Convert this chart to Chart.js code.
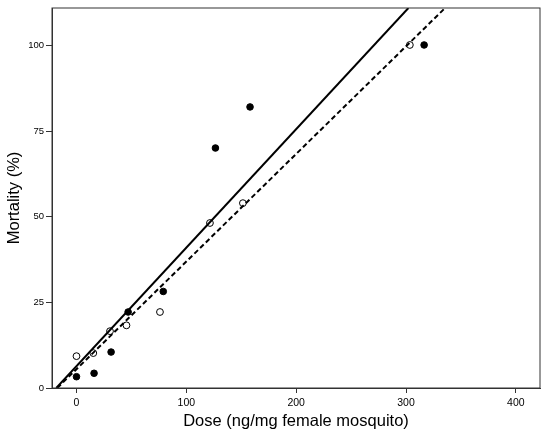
<!DOCTYPE html>
<html>
<head>
<meta charset="utf-8">
<script src="https://cdn.jsdelivr.net/npm/chart.js@4/dist/chart.umd.min.js"></script>
<style>
  html, body { margin: 0; padding: 0; background: #fff; }
  #wrap { width: 550px; height: 439px; }
</style>
</head>
<body>
<div id="wrap"><canvas id="doseChart" width="550" height="439"></canvas></div>
<script>
// filled circles
const filledDose = [0, 16, 31.5, 47, 79, 126.5, 158, 316.5]
const filledMort = [3.3, 4.3, 10.5, 22.2, 28.2, 70.1, 82.1, 100.2]

// open circles
const openDose = [0, 15.3, 30.5, 45.5, 76, 121.5, 151.5, 303.5]
const openMort = [9.3, 10.2, 16.6, 18.3, 22.2, 48.2, 54, 100.2]

// fitted lines, end points
const solidFitX = [-18.4, 302.2]
const solidFitY = [0, 111]
const dashedFitX = [-17.5, 335.6]
const dashedFitY = [0, 111]

const xTicks = [0, 100, 200, 300, 400]
const yTicks = [0, 25, 50, 75, 100]

const toPoints = (xs, ys) => xs.map((x, i) => ({ x: x, y: ys[i] }))

//draws the box round the plot area
const frameBox = {
    id: 'frameBox',
    afterDatasetsDraw(chart) {
        const { ctx, chartArea: a } = chart
        ctx.save()
        ctx.strokeStyle = '#333'
        ctx.lineWidth = 1
        ctx.strokeRect(a.left, a.top, a.right - a.left, a.bottom - a.top)
        ctx.restore()
    }
}

const ctx = document.getElementById('doseChart').getContext('2d')
new Chart(ctx, {
    type: 'scatter',
    data: {
        datasets: [{
            type: 'line',
            data: toPoints(solidFitX, solidFitY),
            borderColor: '#000',
            borderWidth: 2,
            pointRadius: 0,
            fill: false
        }, {
            type: 'line',
            data: toPoints(dashedFitX, dashedFitY),
            borderColor: '#000',
            borderWidth: 2,
            borderDash: [5, 3],
            pointRadius: 0,
            fill: false
        }, {
            data: toPoints(filledDose, filledMort),
            pointRadius: 3.3,
            pointBackgroundColor: '#000',
            pointBorderColor: '#000',
            pointBorderWidth: 1
        }, {
            data: toPoints(openDose, openMort),
            pointRadius: 3.4,
            pointBackgroundColor: '#fff',
            pointBorderColor: '#000',
            pointBorderWidth: 1
        }]
    },
    plugins: [frameBox],
    options: {
        responsive: false,
        animation: false,
        layout: { padding: { top: 8, right: 10, left: 0, bottom: 0 } },
        plugins: {
            legend: { display: false },
            tooltip: { enabled: false }
        },
        scales: {
            x: {
                type: 'linear',
                min: -22.3,
                max: 422,
                afterBuildTicks: (s) => { s.ticks = xTicks.map(v => ({ value: v })) },
                afterFit: (s) => { s.height = 51 },
                grid: { display: true, drawOnChartArea: false, drawTicks: true, tickLength: 5, color: '#333' },
                border: { display: true, color: '#333' },
                ticks: { color: '#000', padding: 4, maxRotation: 0, font: { family: 'Liberation Sans', size: 10.5 } },
                title: {
                    display: true,
                    text: 'Dose (ng/mg female mosquito)',
                    color: '#000',
                    padding: { top: 0, bottom: 8 },
                    font: { family: 'Liberation Sans', size: 16.5 }
                }
            },
            y: {
                type: 'linear',
                min: 0,
                max: 111,
                afterBuildTicks: (s) => { s.ticks = yTicks.map(v => ({ value: v })) },
                afterFit: (s) => { s.width = 52 },
                grid: { display: true, drawOnChartArea: false, drawTicks: true, tickLength: 6, color: '#333' },
                border: { display: true, color: '#333' },
                ticks: { color: '#000', padding: 2, font: { family: 'Liberation Sans', size: 9.5 } },
                title: {
                    display: true,
                    text: 'Mortality (%)',
                    color: '#000',
                    padding: { top: 5, bottom: 0 },
                    font: { family: 'Liberation Sans', size: 16.5 }
                }
            }
        }
    }
})
</script>
</body>
</html>
